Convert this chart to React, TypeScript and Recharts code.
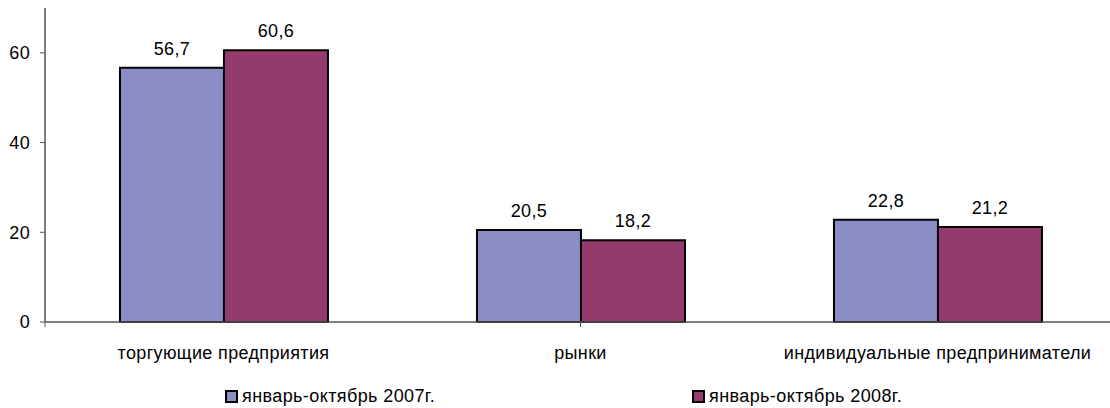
import { BarChart, Bar, XAxis, YAxis, LabelList } from "recharts";

const categories = [
  "торгующие предприятия",
  "рынки",
  "индивидуальные предприниматели",
];
const series2007 = [56.7, 20.5, 22.8];
const series2008 = [60.6, 18.2, 21.2];
const yTicks = [0, 20, 40, 60];
const boundaryTicks = [0, 1, 2, 3];

const seriesNames = ["январь-октябрь 2007г.", "январь-октябрь 2008г."];
const seriesColors = ["#8B8EC5", "#943A6C"];

const data = categories.map((name, i) => ({
  name,
  y2007: series2007[i],
  y2008: series2008[i],
}));

const font = "'Liberation Sans', Arial, sans-serif";
const axisColor = "#555";
const textStyle = {
  fill: "#000",
  fontSize: 18,
  fontFamily: font,
  letterSpacing: 0.35,
};

const fmt = (v: any) => String(v).replace(".", ",");
const noLabel = () => <g />;

export default function App() {
  return (
    <div
      style={{
        position: "absolute",
        left: 0,
        top: 0,
        width: 1110,
        height: 408,
        overflow: "hidden",
        background: "#fff",
        fontFamily: font,
      }}
    >
      <BarChart
        width={1120}
        height={408}
        data={data}
        margin={{ top: 8, right: 4, bottom: 55, left: 0 }}
        barCategoryGap="21%"
        barGap={0}
      >
        {/* axis line + category boundary ticks */}
        <XAxis
          xAxisId="a"
          type="number"
          domain={[0, 3]}
          ticks={boundaryTicks}
          axisLine={{ stroke: axisColor, strokeWidth: 1.5 }}
          tick={noLabel}
          tickLine={{ stroke: axisColor }}
          tickSize={5}
          height={1}
        />
        <XAxis
          dataKey="name"
          xAxisId="b"
          height={30}
          axisLine={false}
          tickLine={false}
          tickSize={5}
          tickMargin={18}
          tick={textStyle}
          interval={0}
        />
        <YAxis
          width={45}
          domain={[0, 70]}
          ticks={yTicks}
          axisLine={{ stroke: axisColor, strokeWidth: 1.5 }}
          tickLine={{ stroke: axisColor }}
          tickSize={5}
          tickMargin={10}
          tick={textStyle}
        />
        <Bar
          dataKey="y2007"
          xAxisId="b"
          fill={seriesColors[0]}
          stroke="#000"
          strokeWidth={2}
          isAnimationActive={false}
        >
          <LabelList
            dataKey="y2007"
            position="top"
            offset={13}
            formatter={fmt}
            style={textStyle}
          />
        </Bar>
        <Bar
          dataKey="y2008"
          xAxisId="b"
          fill={seriesColors[1]}
          stroke="#000"
          strokeWidth={2}
          isAnimationActive={false}
        >
          <LabelList
            dataKey="y2008"
            position="top"
            offset={13}
            formatter={fmt}
            style={textStyle}
          />
        </Bar>
      </BarChart>

      {seriesNames.map((label, i) => (
        <div
          key={label}
          style={{
            position: "absolute",
            left: i === 0 ? 225 : 692,
            top: 385,
            height: 22,
            display: "flex",
            alignItems: "center",
            fontSize: 18,
            letterSpacing: 0.4,
            color: "#000",
            whiteSpace: "nowrap",
          }}
        >
          <span
            style={{
              display: "inline-block",
              width: 9,
              height: 9,
              border: "2px solid #000",
              background: seriesColors[i],
              marginRight: 4,
            }}
          />
          {label}
        </div>
      ))}
    </div>
  );
}
